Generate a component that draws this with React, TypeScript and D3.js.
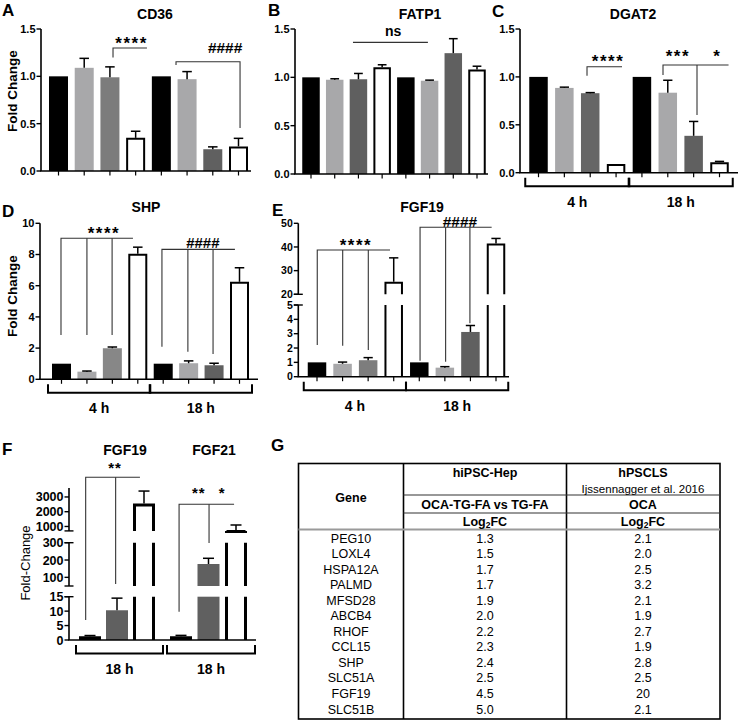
import React from 'react';
import * as d3 from 'd3';

const FONT = "'Liberation Sans', Arial, Helvetica, sans-serif";

// ---------- data ----------
const timepoints = ['4 h', '18 h'];
const conditions = ['C1', 'C2', 'C3', 'C4'];

const cd36Mean = [1.0, 1.09, 0.99, 0.35, 1.0, 0.97, 0.23, 0.26];
const cd36Sem = [0, 0.1, 0.11, 0.07, 0, 0.08, 0.025, 0.085];
const fatp1Mean = [1.0, 0.975, 0.98, 1.105, 1.0, 0.965, 1.25, 1.08];
const fatp1Sem = [0, 0.01, 0.06, 0.025, 0, 0.006, 0.15, 0.035];
const dgat2Mean = [1.0, 0.885, 0.83, 0.09, 1.0, 0.835, 0.385, 0.11];
const dgat2Sem = [0, 0.008, 0.006, 0, 0, 0.13, 0.15, 0.008];
const shpMean = [1.0, 0.49, 1.99, 8.05, 1.0, 1.03, 0.9, 6.25];
const shpSem = [0, 0.04, 0.08, 0.42, 0, 0.15, 0.13, 0.9];
const fgf19Mean = [1.0, 0.9, 1.15, 25.3, 1.0, 0.63, 3.12, 41.5];
const fgf19Sem = [0, 0.12, 0.18, 10.1, 0, 0.07, 0.45, 2.1];
const secFgf19Mean = [1.3, 10.3, 2550];
const secFgf19Sem = [0.25, 4.2, 850];
const secFgf21Mean = [1.3, 177, 760];
const secFgf21Sem = [0.3, 33, 340];

const ticks15 = [0, 0.5, 1.0, 1.5];
const ticksShp = [0, 2, 4, 6, 8, 10];
const ticksFgfLow = [0, 1, 2, 3, 4, 5];
const ticksFgfHigh = [20, 30, 40, 50];
const ticksSecLow = [0, 5, 10, 15];
const ticksSecMid = [100, 200, 300];
const ticksSecTop = [1000, 2000, 3000];

const genes = ['PEG10', 'LOXL4', 'HSPA12A', 'PALMD', 'MFSD28', 'ABCB4', 'RHOF', 'CCL15', 'SHP', 'SLC51A', 'FGF19', 'SLC51B'];
const hipscLog2FC = ['1.3', '1.5', '1.7', '1.7', '1.9', '2.0', '2.2', '2.3', '2.4', '2.5', '4.5', '5.0'];
const hpsclsLog2FC = ['2.1', '2.0', '2.5', '3.2', '2.1', '1.9', '2.7', '1.9', '2.8', '2.5', '20', '2.1'];

// ---------- styles ----------
const BLACK = '#000000';
const LIGHT = '#a8a8aa';
const DARK = '#606060';
const WHITE = '#ffffff';

type Seg = { domain: [number, number]; range: [number, number]; ticks: number[] };
type Ann =
  | { kind: 'path'; pts: [number, number][] }
  | { kind: 'text'; at: [number, number]; text: string; size: number; ls?: number };

interface PanelProps {
  segs: Seg[];
  fmt: (v: number) => string;
  tickSize: number;
  axisX: number;
  xEnd: number;
  xOf: (i: number) => number;
  bw: number;
  means: number[];
  sems: number[];
  fills: string[];
  whiteStroke: number;
  xTicks: boolean;
  anns: Ann[];
  groups?: { a: number; b: number; label: string }[];
  padL?: number;
  padR?: number;
}

function BarPanel(p: PanelProps) {
  const scales = p.segs.map((s) => d3.scaleLinear().domain(s.domain).range(s.range));
  const segIdx = (v: number) => {
    for (let k = 0; k < p.segs.length; k++) {
      if (v <= p.segs[k].domain[1] || k === p.segs.length - 1) return k;
    }
    return 0;
  };
  const yOf = (v: number) => scales[segIdx(v)](v);
  const y0 = p.segs[0].range[0];
  const capW = p.bw * 0.5;
  const padL = p.padL ?? 4;
  const padR = p.padR ?? 3;

  return (
    <g>
      {/* bars */}
      {p.means.map((v, i) => {
        const cx = p.xOf(i);
        const x0 = cx - p.bw / 2;
        const x1 = cx + p.bw / 2;
        const fill = p.fills[i];
        const white = fill === WHITE;
        const sw = p.whiteStroke;
        const parts: any[] = [];
        p.segs.forEach((s, k) => {
          const lo = s.domain[0];
          const hi = s.domain[1];
          if (k > 0 && v <= lo) return;
          const top = Math.min(v, hi);
          const yb = scales[k](lo);
          const yt = scales[k](top);
          parts.push(<rect key={'r' + k} x={x0} y={yt} width={p.bw} height={Math.max(0, yb - yt)} fill={fill} />);
          if (white) {
            const d =
              v <= hi
                ? `M${x0 + sw / 2},${yb}V${yt + sw / 2}H${x1 - sw / 2}V${yb}`
                : `M${x0 + sw / 2},${yb}V${yt}M${x1 - sw / 2},${yt}V${yb}`;
            parts.push(<path key={'p' + k} d={d} fill="none" stroke={BLACK} strokeWidth={sw} />);
          }
        });
        const e = p.sems[i];
        if (e > 0) {
          const k = segIdx(v);
          const hi = p.segs[k].domain[1];
          const yv = scales[k](v);
          const ye = scales[k](Math.min(v + e, hi));
          parts.push(<line key="el" x1={cx} x2={cx} y1={yv} y2={ye} stroke={BLACK} strokeWidth={1.5} />);
          parts.push(<line key="ec" x1={cx - capW / 2} x2={cx + capW / 2} y1={ye} y2={ye} stroke={BLACK} strokeWidth={1.5} />);
        }
        return <g key={i}>{parts}</g>;
      })}

      {/* y axis */}
      {p.segs.map((s, k) => (
        <g key={'ax' + k}>
          <line x1={p.axisX} x2={p.axisX} y1={s.range[0]} y2={s.range[1]} stroke={BLACK} strokeWidth={1.6} />
          {s.ticks.map((t) => (
            <g key={t}>
              <line x1={p.axisX - 4.5} x2={p.axisX} y1={scales[k](t)} y2={scales[k](t)} stroke={BLACK} strokeWidth={1.4} />
              <text
                x={p.axisX - 5.5}
                y={scales[k](t)}
                dy="0.36em"
                textAnchor="end"
                fontSize={p.tickSize}
                fontWeight="bold"
              >
                {p.fmt(t)}
              </text>
            </g>
          ))}
          {p.segs.length > 1 && k > 0 && (
            <line x1={p.axisX - 4.5} x2={p.axisX + 4.5} y1={s.range[0]} y2={s.range[0]} stroke={BLACK} strokeWidth={1.4} />
          )}
          {p.segs.length > 1 && k < p.segs.length - 1 && (
            <line x1={p.axisX - 4.5} x2={p.axisX + 4.5} y1={s.range[1]} y2={s.range[1]} stroke={BLACK} strokeWidth={1.4} />
          )}
        </g>
      ))}

      {/* x axis */}
      <line x1={p.axisX - 0.8} x2={p.xEnd} y1={y0} y2={y0} stroke={BLACK} strokeWidth={1.6} />
      {p.xTicks &&
        p.means.map((_, i) => (
          <line key={'xt' + i} x1={p.xOf(i)} x2={p.xOf(i)} y1={y0} y2={y0 + 4.5} stroke={BLACK} strokeWidth={1.2} />
        ))}

      {/* annotations */}
      {p.anns.map((a, j) => {
        if (a.kind === 'path') {
          const d = a.pts.map((pt, n) => `${n === 0 ? 'M' : 'L'}${p.xOf(pt[0])},${yOf(pt[1])}`).join('');
          return <path key={'an' + j} d={d} fill="none" stroke="#333" strokeWidth={1.1} />;
        }
        const dyFrac = a.text.includes('*') ? 0.52 : a.text.includes('#') ? 0.36 : 0.28;
        return (
          <text
            key={'an' + j}
            x={p.xOf(a.at[0])}
            y={yOf(a.at[1]) + dyFrac * a.size}
            textAnchor="middle"
            fontSize={a.size}
            fontWeight="bold"
            letterSpacing={a.ls ?? 0}
          >
            {a.text}
          </text>
        );
      })}

      {/* group brackets */}
      {p.groups &&
        p.groups.map((g, j) => {
          const bx0 = p.xOf(g.a) - p.bw / 2 - padL;
          const bx1 = p.xOf(g.b) + p.bw / 2 + padR;
          return (
            <g key={'g' + j}>
              <path
                d={`M${bx0},${y0 + 5}V${y0 + 13.5}H${bx1}V${y0 + 5}`}
                fill="none"
                stroke={BLACK}
                strokeWidth={2}
              />
              <text x={(bx0 + bx1) / 2} y={y0 + 29} dy="0.36em" textAnchor="middle" fontSize={14} fontWeight="bold">
                {g.label}
              </text>
            </g>
          );
        })}
    </g>
  );
}

export default function App() {
  const W = 740;
  const H = 722;
  const f1 = d3.format('.1f');
  const fd = d3.format('d');
  const groups8 = [
    { a: 0, b: conditions.length - 1, label: timepoints[0] },
    { a: conditions.length, b: 2 * conditions.length - 1, label: timepoints[1] },
  ];

  const xA = d3.scaleLinear().domain([0, 7]).range([58.5, 238.5]);
  const xB = d3.scaleLinear().domain([0, 7]).range([311, 477]);
  const xC = d3.scaleLinear().domain([0, 7]).range([538.5, 719.5]);
  const xD = d3.scaleLinear().domain([0, 7]).range([61.5, 239.5]);
  const xE = d3.scaleLinear().domain([0, 7]).range([317, 496]);
  const xF19 = d3.scaleLinear().domain([0, 2]).range([90, 144]);
  const xF21 = d3.scaleLinear().domain([0, 2]).range([181, 236]);
  const xF = (i: number) => (i < 2.5 ? xF19(i) : xF21(i - 3));

  const rowY = d3.scaleLinear().domain([0, genes.length - 1]).range([538, 709]);
  const col = [351, 485, 643];

  const Log2FC = ({ x, y }: { x: number; y: number }) => (
    <text x={x} y={y} dy="0.36em" textAnchor="middle" fontSize={12.5} fontWeight="bold">
      Log<tspan fontSize={8.5} dy={2.5}>2</tspan>
      <tspan dy={-2.5}>FC</tspan>
    </text>
  );

  return (
    <svg
      width={W}
      height={H}
      viewBox={`0 0 ${W} ${H}`}
      style={{ position: 'absolute', left: 0, top: 0, background: '#fff' }}
      fontFamily={FONT}
    >
      <rect width={W} height={H} fill="#fff" />

      {/* panel letters */}
      <g fontSize={17} fontWeight="bold">
        <text x={2} y={16}>A</text>
        <text x={268} y={16}>B</text>
        <text x={492} y={17}>C</text>
        <text x={2} y={217}>D</text>
        <text x={272} y={216}>E</text>
        <text x={2} y={455}>F</text>
        <text x={271} y={451}>G</text>
      </g>

      {/* titles */}
      <g fontSize={14} fontWeight="bold" textAnchor="middle">
        <text x={155} y={18.5}>CD36</text>
        <text x={420} y={18.5}>FATP1</text>
        <text x={633} y={18.5}>DGAT2</text>
        <text x={146} y={212}>SHP</text>
        <text x={422} y={212}>FGF19</text>
        <text x={125} y={455}>FGF19</text>
        <text x={214} y={455}>FGF21</text>
      </g>

      {/* y labels */}
      <text transform="translate(17,91) rotate(-90)" textAnchor="middle" fontSize={13.5} fontWeight="bold">
        Fold Change
      </text>
      <text transform="translate(17,296) rotate(-90)" textAnchor="middle" fontSize={13.5} fontWeight="bold">
        Fold Change
      </text>
      <text transform="translate(29.5,563) rotate(-90)" textAnchor="middle" fontSize={13}>
        Fold-Change
      </text>

      {/* A */}
      <BarPanel
        segs={[{ domain: [0, 1.5], range: [171, 29], ticks: ticks15 }]}
        fmt={f1}
        tickSize={11}
        axisX={41}
        xEnd={251}
        xOf={xA}
        bw={19}
        means={cd36Mean}
        sems={cd36Sem}
        fills={[BLACK, LIGHT, '#7c7c7c', WHITE, BLACK, LIGHT, DARK, WHITE]}
        whiteStroke={2}
        xTicks
        anns={[
          { kind: 'text', at: [2.84, 1.38], text: '****', size: 17, ls: 1.5 },
          { kind: 'path', pts: [[2.12, 1.2], [2.12, 1.3], [3.44, 1.3]] },
          { kind: 'text', at: [6.48, 1.31], text: '####', size: 15.5 },
          { kind: 'path', pts: [[4.57, 1.12], [4.57, 1.154], [7.06, 1.154], [7.06, 0.454]] },
        ]}
      />

      {/* B */}
      <BarPanel
        segs={[{ domain: [0, 1.5], range: [174, 29], ticks: ticks15 }]}
        fmt={f1}
        tickSize={11}
        axisX={295}
        xEnd={488}
        xOf={xB}
        bw={17.5}
        means={fatp1Mean}
        sems={fatp1Sem}
        fills={[BLACK, LIGHT, '#5f5f5f', WHITE, BLACK, LIGHT, DARK, WHITE]}
        whiteStroke={2}
        xTicks
        anns={[
          { kind: 'text', at: [3.46, 1.47], text: 'ns', size: 14 },
          { kind: 'path', pts: [[1.77, 1.362], [4.93, 1.362]] },
        ]}
      />

      {/* C */}
      <BarPanel
        segs={[{ domain: [0, 1.5], range: [172.7, 29], ticks: ticks15 }]}
        fmt={f1}
        tickSize={11}
        axisX={520}
        xEnd={738}
        xOf={xC}
        bw={18.5}
        means={dgat2Mean}
        sems={dgat2Sem}
        fills={[BLACK, LIGHT, '#666666', WHITE, BLACK, LIGHT, DARK, WHITE]}
        whiteStroke={2}
        xTicks
        groups={groups8}
        padL={4}
        padR={4}
        anns={[
          { kind: 'text', at: [2.69, 1.197], text: '****', size: 17, ls: 1.5 },
          { kind: 'path', pts: [[1.876, 1.0125], [1.876, 1.1065], [3.23, 1.1065]] },
          { kind: 'text', at: [5.39, 1.249], text: '***', size: 17, ls: 1.5 },
          { kind: 'text', at: [6.89, 1.249], text: '*', size: 17 },
          { kind: 'path', pts: [[4.815, 1.02], [4.815, 1.124], [7.35, 1.124]] },
          { kind: 'path', pts: [[6.13, 1.124], [6.13, 0.602]] },
        ]}
      />

      {/* D */}
      <BarPanel
        segs={[{ domain: [0, 10], range: [379.3, 223.3], ticks: ticksShp }]}
        fmt={fd}
        tickSize={11}
        axisX={40}
        xEnd={258}
        xOf={xD}
        bw={19}
        means={shpMean}
        sems={shpSem}
        fills={[BLACK, LIGHT, '#878787', WHITE, BLACK, LIGHT, DARK, WHITE]}
        whiteStroke={2}
        xTicks
        groups={groups8}
        anns={[
          { kind: 'text', at: [1.67, 9.57], text: '****', size: 17, ls: 1.5 },
          { kind: 'path', pts: [[-0.02, 2.84], [-0.02, 9.04], [2.81, 9.04]] },
          { kind: 'path', pts: [[1.0, 2.84], [1.0, 9.04]] },
          { kind: 'path', pts: [[1.99, 2.84], [1.99, 9.04]] },
          { kind: 'text', at: [5.56, 8.74], text: '####', size: 15 },
          { kind: 'path', pts: [[3.95, 2.09], [3.95, 8.33], [6.82, 8.33]] },
          { kind: 'path', pts: [[4.97, 1.77], [4.97, 8.33]] },
          { kind: 'path', pts: [[5.96, 1.62], [5.96, 8.33]] },
        ]}
      />

      {/* E */}
      <BarPanel
        segs={[
          { domain: [0, 5], range: [376.7, 305], ticks: ticksFgfLow },
          { domain: [20, 50], range: [294.3, 223.3], ticks: ticksFgfHigh },
        ]}
        fmt={fd}
        tickSize={10.5}
        axisX={298.3}
        xEnd={509}
        xOf={xE}
        bw={18.5}
        means={fgf19Mean}
        sems={fgf19Sem}
        fills={[BLACK, LIGHT, '#7d7d7d', WHITE, BLACK, LIGHT, DARK, WHITE]}
        whiteStroke={2}
        xTicks
        groups={groups8}
        anns={[
          { kind: 'text', at: [1.525, 42.2], text: '****', size: 17, ls: 1.5 },
          { kind: 'path', pts: [[0.01, 2.21], [0.01, 38.7], [2.855, 38.7]] },
          { kind: 'path', pts: [[1.005, 2.16], [1.005, 38.7]] },
          { kind: 'path', pts: [[2.006, 1.86], [2.006, 38.7]] },
          { kind: 'text', at: [5.59, 50.67], text: '####', size: 15.5 },
          { kind: 'path', pts: [[4.03, 1.12], [4.03, 48.3], [6.83, 48.3]] },
          { kind: 'path', pts: [[5.03, 1.05], [5.03, 48.3]] },
          { kind: 'path', pts: [[5.98, 3.72], [5.98, 48.3]] },
        ]}
      />

      {/* F */}
      <BarPanel
        segs={[
          { domain: [0, 15], range: [640, 596.7], ticks: ticksSecLow },
          { domain: [50, 300], range: [586, 542.7], ticks: ticksSecMid },
          { domain: [700, 3600], range: [530.9, 488.1], ticks: ticksSecTop },
        ]}
        fmt={fd}
        tickSize={12.5}
        axisX={69}
        xEnd={256}
        xOf={xF}
        bw={22}
        means={[...secFgf19Mean, ...secFgf21Mean]}
        sems={[...secFgf19Sem, ...secFgf21Sem]}
        fills={[BLACK, DARK, WHITE, BLACK, DARK, WHITE]}
        whiteStroke={3}
        xTicks={false}
        groups={[
          { a: 0, b: 2, label: timepoints[1] },
          { a: 3, b: 5, label: timepoints[1] },
        ]}
        padL={3}
        padR={8}
        anns={[
          { kind: 'text', at: [0.93, 5169], text: '**', size: 15, ls: 1 },
          { kind: 'path', pts: [[-0.16, 6.93], [-0.16, 4336], [1.85, 4336]] },
          { kind: 'path', pts: [[0.95, 61.5], [0.95, 4336]] },
          { kind: 'text', at: [3.65, 3475], text: '**', size: 15, ls: 1 },
          { kind: 'text', at: [4.48, 3475], text: '*', size: 15 },
          { kind: 'path', pts: [[2.93, 9.8], [2.93, 2505], [4.93, 2505]] },
          { kind: 'path', pts: [[4.02, 298], [4.02, 2505]] },
        ]}
      />

      {/* G table */}
      <g>
        <rect x={298.5} y={463.5} width={421.5} height={255.5} fill="none" stroke={BLACK} strokeWidth={1.6} />
        <line x1={403.5} x2={403.5} y1={463.5} y2={719} stroke={BLACK} strokeWidth={1.6} />
        <line x1={566.5} x2={566.5} y1={463.5} y2={719} stroke={BLACK} strokeWidth={1.6} />
        <line x1={403.5} x2={720} y1={495} y2={495} stroke="#333" strokeWidth={1.1} />
        <line x1={403.5} x2={720} y1={513} y2={513} stroke="#333" strokeWidth={1.1} />
        <line x1={298.5} x2={720} y1={529.5} y2={529.5} stroke="#9a9a9a" strokeWidth={2} />

        <g fontSize={12.5} fontWeight="bold" textAnchor="middle">
          <text x={col[0]} y={497} dy="0.36em">Gene</text>
          <text x={col[1]} y={472} dy="0.36em">hiPSC-Hep</text>
          <text x={col[2]} y={472} dy="0.36em">hPSCLS</text>
          <text x={col[1]} y={504.5} dy="0.36em">OCA-TG-FA vs TG-FA</text>
          <text x={col[2]} y={504.5} dy="0.36em">OCA</text>
        </g>
        <text x={col[2]} y={489} dy="0.36em" textAnchor="middle" fontSize={11.5}>
          Ijssennagger et al. 2016
        </text>
        <Log2FC x={col[1]} y={521} />
        <Log2FC x={col[2]} y={521} />

        <g fontSize={12.5} textAnchor="middle">
          {genes.map((g, i) => (
            <g key={g}>
              <text x={col[0]} y={rowY(i)} dy="0.36em">{g}</text>
              <text x={col[1]} y={rowY(i)} dy="0.36em">{hipscLog2FC[i]}</text>
              <text x={col[2]} y={rowY(i)} dy="0.36em">{hpsclsLog2FC[i]}</text>
            </g>
          ))}
        </g>
      </g>
    </svg>
  );
}
